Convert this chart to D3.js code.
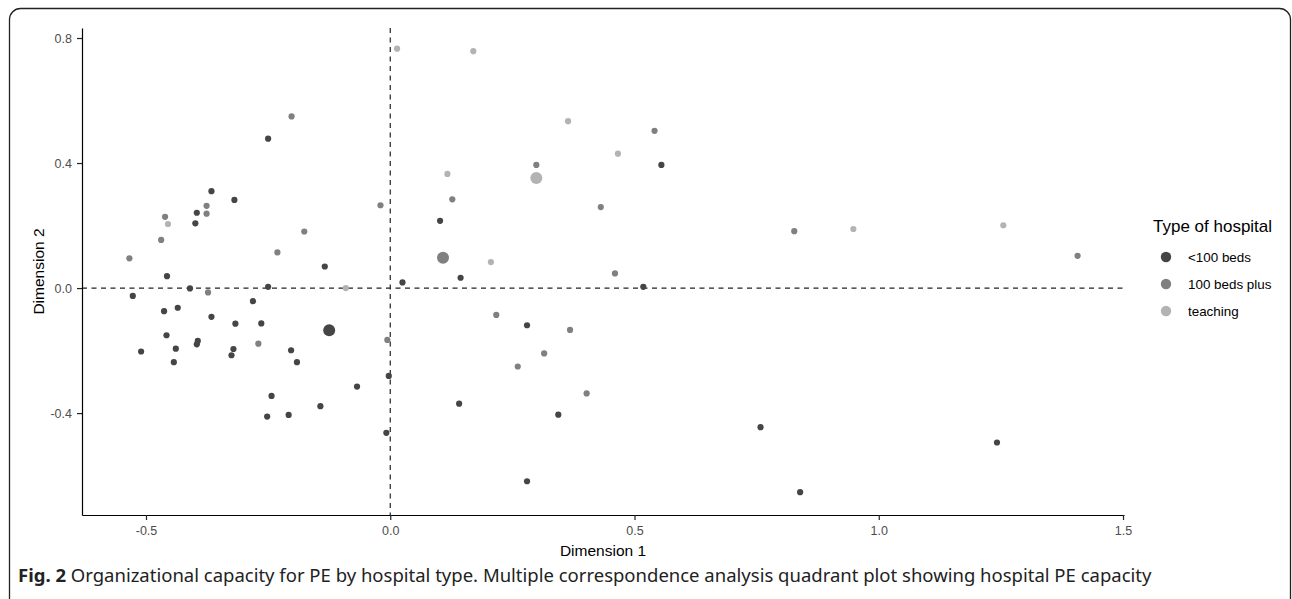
<!DOCTYPE html>
<html>
<head>
<meta charset="utf-8">
<script src="https://cdn.jsdelivr.net/npm/d3@7"></script>
<style>
  body { margin: 0; background: #fff; }
  svg { display: block; }
</style>
</head>
<body>
<svg id="chart" width="1292" height="599"></svg>
<script>
// hospital coordinates on the first two MCA dimensions
const under100 = [
  [-0.527, -0.025], [-0.510, -0.203], [-0.457, 0.038], [-0.463, -0.074], [-0.458, -0.151],
  [-0.443, -0.237], [-0.439, -0.194], [-0.435, -0.063], [-0.410, -0.001], [-0.399, 0.207],
  [-0.396, 0.241], [-0.394, -0.169], [-0.396, -0.180], [-0.366, 0.310], [-0.366, -0.092],
  [-0.319, 0.282], [-0.325, -0.215], [-0.321, -0.195], [-0.317, -0.114], [-0.281, -0.042],
  [-0.264, -0.113], [-0.250, 0.478], [-0.252, -0.411], [-0.250, 0.004], [-0.243, -0.345],
  [-0.208, -0.406], [-0.203, -0.199], [-0.191, -0.237], [-0.143, -0.378], [-0.134, 0.069],
  [-0.068, -0.315], [-0.008, -0.463], [-0.003, -0.281], [0.025, 0.018], [0.102, 0.215],
  [0.141, -0.370], [0.144, 0.033], [0.280, -0.119], [0.280, -0.618], [0.344, -0.405],
  [0.518, 0.004], [0.555, 0.394], [0.758, -0.445], [0.839, -0.653], [1.242, -0.494]
];
const beds100plus = [
  [-0.534, 0.095], [-0.469, 0.154], [-0.461, 0.228], [-0.376, 0.263], [-0.376, 0.238],
  [-0.373, -0.014], [-0.270, -0.178], [-0.231, 0.114], [-0.202, 0.549], [-0.176, 0.181],
  [-0.020, 0.265], [-0.006, -0.166], [0.127, 0.284], [0.217, -0.086], [0.299, 0.394],
  [0.315, -0.209], [0.261, -0.251], [0.368, -0.134], [0.402, -0.337], [0.431, 0.259],
  [0.460, 0.047], [0.541, 0.503], [0.827, 0.182], [1.407, 0.103]
];
const teaching = [
  [-0.455, 0.205], [-0.091, 0.000], [0.014, 0.766], [0.117, 0.365], [0.170, 0.758],
  [0.206, 0.083], [0.364, 0.534], [0.466, 0.430], [0.948, 0.189], [1.255, 0.201]
];
// category centroids (the large points)
const centroids = [[-0.125, -0.135], [0.108, 0.097], [0.299, 0.352]];

const categories = ['<100 beds', '100 beds plus', 'teaching'];
const greys = ['#454545', '#808080', '#b3b3b3'];
const xTicks = [-0.5, 0.0, 0.5, 1.0, 1.5];
const yTicks = [-0.4, 0.0, 0.4, 0.8];

const svg = d3.select('#chart');
const axisFont = '"Liberation Sans", Arial, sans-serif';
const capFont = '"Noto Sans", "Open Sans", sans-serif';

// rounded figure frame
svg.append('rect')
  .attr('x', 9.5).attr('y', 8.5)
  .attr('width', 1281).attr('height', 620)
  .attr('rx', 11)
  .attr('fill', 'none').attr('stroke', '#222').attr('stroke-width', 1.3);

const panel = { left: 82, right: 1124, top: 28, bottom: 515 };

const x = d3.scaleLinear().domain([-0.631, 1.502]).range([panel.left, panel.right]);
const y = d3.scaleLinear().domain([-0.726, 0.832]).range([panel.bottom, panel.top]);

const g = svg.append('g');

// reference lines through the origin
g.append('line')
  .attr('x1', x(0)).attr('x2', x(0)).attr('y1', panel.top).attr('y2', panel.bottom)
  .attr('stroke', '#222').attr('stroke-width', 1.2).attr('stroke-dasharray', '5,4.5');
g.append('line')
  .attr('x1', panel.left).attr('x2', panel.right).attr('y1', y(0)).attr('y2', y(0))
  .attr('stroke', '#222').attr('stroke-width', 1.2).attr('stroke-dasharray', '5,4.5');

// axes
const xAxis = g.append('g')
  .attr('transform', 'translate(0,' + panel.bottom + ')')
  .call(d3.axisBottom(x).tickValues(xTicks).tickSizeInner(5).tickSizeOuter(0)
    .tickPadding(6).tickFormat(d3.format('.1f')));
const yAxis = g.append('g')
  .attr('transform', 'translate(' + panel.left + ',0)')
  .call(d3.axisLeft(y).tickValues(yTicks).tickSizeInner(5).tickSizeOuter(0)
    .tickPadding(5).tickFormat(d3.format('.1f')));

[xAxis, yAxis].forEach((a) => {
  a.select('.domain').attr('stroke', '#000').attr('stroke-width', 1.2);
  a.selectAll('.tick line').attr('stroke', '#222').attr('stroke-width', 1.2);
  a.selectAll('.tick text')
    .attr('fill', '#4d4d4d')
    .style('font-family', axisFont)
    .style('font-size', '12.5px');
});
// d3 uses a real minus sign, ggplot a hyphen
g.selectAll('.tick text').text(function() { return d3.select(this).text().replace('\u2212', '-'); });

// points
const groups = [under100, beds100plus, teaching];
groups.forEach((pts, i) => {
  g.append('g').selectAll('circle')
    .data(pts)
    .enter().append('circle')
    .attr('cx', (d) => x(d[0]))
    .attr('cy', (d) => y(d[1]))
    .attr('r', 3.1)
    .attr('fill', greys[i]);
});

g.append('g').selectAll('circle')
  .data(centroids)
  .enter().append('circle')
  .attr('cx', (d) => x(d[0]))
  .attr('cy', (d) => y(d[1]))
  .attr('r', 6)
  .attr('fill', (d, i) => greys[i]);

// axis titles
svg.append('text')
  .attr('x', (panel.left + panel.right) / 2).attr('y', 556)
  .attr('text-anchor', 'middle')
  .style('font-family', axisFont).style('font-size', '15.5px')
  .text('Dimension 1');

svg.append('text')
  .attr('text-anchor', 'middle')
  .attr('transform', 'translate(44,' + ((panel.top + panel.bottom) / 2) + ')rotate(-90)')
  .style('font-family', axisFont).style('font-size', '15.5px')
  .text('Dimension 2');

// legend
const legend = svg.append('g').attr('transform', 'translate(1153,0)');
legend.append('text')
  .attr('x', 0).attr('y', 232)
  .style('font-family', axisFont).style('font-size', '17px')
  .text('Type of hospital');

const items = legend.selectAll('.item')
  .data(categories)
  .enter().append('g')
  .attr('class', 'item')
  .attr('transform', (d, i) => 'translate(0,' + (257 + i * 27) + ')');
items.append('circle')
  .attr('cx', 13).attr('cy', 0).attr('r', 5.2)
  .attr('fill', (d, i) => greys[i]);
items.append('text')
  .attr('x', 35).attr('y', 4.8)
  .style('font-family', axisFont).style('font-size', '13.4px')
  .text((d) => d);

// caption
const cap = svg.append('text')
  .attr('x', 18).attr('y', 582)
  .style('font-family', capFont).style('font-size', '18.5px')
  .attr('fill', '#222');
cap.append('tspan').style('font-weight', 'bold').text('Fig. 2');
cap.append('tspan').text(' Organizational capacity for PE by hospital type. Multiple correspondence analysis quadrant plot showing hospital PE capacity');
</script>
</body>
</html>
